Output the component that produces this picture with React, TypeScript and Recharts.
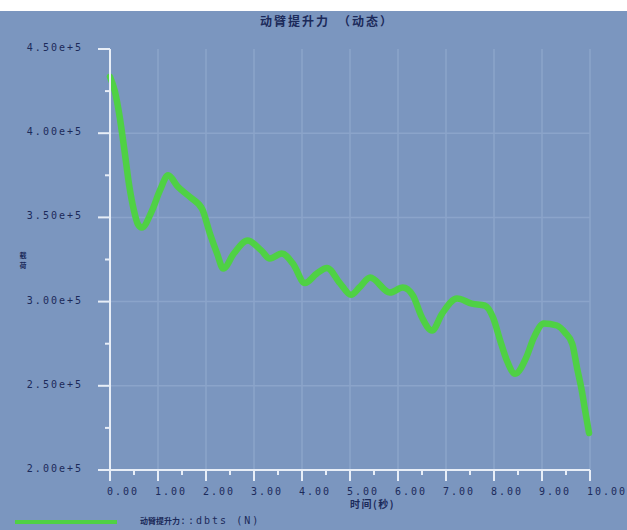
import React from "react";
import { LineChart, Line, XAxis, YAxis, ReferenceLine } from "recharts";

const timeValues = [0, 0.1, 0.2, 0.3, 0.4, 0.5, 0.58, 0.66, 0.875, 1.04, 1.21, 1.42, 1.67, 1.92, 2.08, 2.23, 2.36, 2.58, 2.87, 3.15, 3.33, 3.58, 3.81, 4.06, 4.31, 4.52, 4.79, 5.02, 5.2, 5.42, 5.83, 6.1, 6.31, 6.5, 6.71, 6.92, 7.23, 7.54, 7.81, 7.98, 8.13, 8.27, 8.44, 8.67, 8.83, 9.04, 9.31, 9.48, 9.63, 9.73, 9.83, 9.9, 9.98];
const forceValues = [433500, 425000, 410000, 390000, 369000, 354000, 346000, 344000, 354000, 366000, 375000, 368000, 362000, 355000, 340500, 328600, 319600, 328600, 336300, 330400, 325600, 328600, 322600, 311000, 316700, 320000, 311000, 304000, 308500, 314300, 305400, 308300, 303600, 290500, 282800, 292900, 301800, 298800, 297600, 290500, 276800, 264900, 257100, 266700, 278600, 287000, 285800, 281600, 275000, 260700, 247000, 235000, 222000];
const xTicks = [0, 0.5, 1, 1.5, 2, 2.5, 3, 3.5, 4, 4.5, 5, 5.5, 6, 6.5, 7, 7.5, 8, 8.5, 9, 9.5, 10];
const yTicks = [200000, 225000, 250000, 275000, 300000, 325000, 350000, 375000, 400000, 425000, 450000];
const xGrid = [1, 2, 3, 4, 5, 6, 7, 8, 9, 10];
const yGrid = [250000, 300000, 350000, 400000];

const title = "动臂提升力　（动态）";
const xLabel = "时间(秒)";
const yLabel = ["载", "荷"];
const legendName = "动臂提升力";
const legendSuffix = "::dbts (N)";

const data = timeValues.map((t, i) => ({ t, v: forceValues[i] }));

const BG = "#7b96bf";
const GRID = "#8ba4ca";
const AXIS = "#e8eef7";
const TEXT = "#1b2a5a";
const GREEN = "#4fd144";
const MONO = "'DejaVu Sans Mono', monospace";
const CJK = "'Noto Sans CJK SC', sans-serif";

const XTick = (props: any) => {
  const { x, y, payload } = props;
  const v = payload.value as number;
  const major = Math.abs(v - Math.round(v)) < 1e-6;
  return (
    <g>
      <line x1={x} x2={x} y1={y} y2={y + (major ? 11 : 5)} stroke={AXIS} strokeWidth={2} />
      {major && (
        <text x={x - 3} y={y + 25} fill={TEXT} fontSize={10} fontFamily={MONO} letterSpacing={2} textAnchor="start">
          {v.toFixed(2)}
        </text>
      )}
    </g>
  );
};

const YTick = (props: any) => {
  const { x, y, payload } = props;
  const v = payload.value as number;
  const major = v % 50000 === 0;
  return (
    <g>
      <line x1={x - (major ? 12 : 5)} x2={x} y1={y} y2={y} stroke={AXIS} strokeWidth={2} />
      {major && (
        <text x={x - 27} y={y + 2} fill={TEXT} fontSize={10} fontFamily={MONO} letterSpacing={2} textAnchor="end">
          {(v / 100000).toFixed(2) + "e+5"}
        </text>
      )}
    </g>
  );
};

export default function App() {
  return (
    <div style={{ position: "absolute", left: 0, top: 0, width: 627, height: 530, background: "#ffffff", overflow: "hidden" }}>
      <div style={{ position: "absolute", left: 0, top: 11, width: 627, height: 519, background: BG }}>
        <LineChart width={627} height={519} data={data} margin={{ top: 38, right: 37, bottom: 0, left: 0 }}>
          <XAxis
            type="number"
            dataKey="t"
            domain={[0, 10]}
            ticks={xTicks}
            interval={0}
            tick={<XTick />}
            tickLine={false}
            tickSize={0}
            tickMargin={0}
            axisLine={{ stroke: AXIS, strokeWidth: 2 }}
            height={60}
          />
          <YAxis
            type="number"
            domain={[200000, 450000]}
            ticks={yTicks}
            interval={0}
            tick={<YTick />}
            tickLine={false}
            tickSize={0}
            tickMargin={0}
            axisLine={{ stroke: AXIS, strokeWidth: 2 }}
            width={110}
          />
          {xGrid.map((g) => (
            <ReferenceLine key={"x" + g} x={g} stroke={GRID} strokeWidth={1.5} ifOverflow="visible" />
          ))}
          {yGrid.map((g) => (
            <ReferenceLine key={"y" + g} y={g} stroke={GRID} strokeWidth={1.5} />
          ))}
          <Line
            type="monotone"
            dataKey="v"
            stroke={GREEN}
            strokeWidth={6.5}
            strokeLinecap="round"
            strokeLinejoin="round"
            dot={false}
            isAnimationActive={false}
          />
        </LineChart>
      </div>
      <div style={{ position: "absolute", left: 260, top: 13, fontSize: 12, fontWeight: 700, fontFamily: CJK, color: TEXT, letterSpacing: 2, whiteSpace: "pre", lineHeight: "16px" }}>
        {title}
      </div>
      <div style={{ position: "absolute", left: 350, top: 497, fontSize: 10, fontWeight: 700, fontFamily: CJK, color: TEXT, letterSpacing: 1.5, whiteSpace: "pre", lineHeight: "14px" }}>
        {xLabel}
      </div>
      <div style={{ position: "absolute", left: 18, top: 250, fontSize: 7, fontWeight: 700, fontFamily: CJK, color: TEXT, lineHeight: "10px", width: 10, textAlign: "center" }}>
        {yLabel.map((c) => (
          <div key={c} style={{ height: 10 }}>{c}</div>
        ))}
      </div>
      <div style={{ position: "absolute", left: 15, top: 520, width: 102, height: 4, background: GREEN }} />
      <div style={{ position: "absolute", left: 140, top: 512, whiteSpace: "pre", color: TEXT, lineHeight: "14px" }}>
        <span style={{ fontSize: 8, fontWeight: 700, fontFamily: CJK }}>{legendName}</span>
        <span style={{ fontSize: 10, fontFamily: MONO, letterSpacing: 2 }}>{legendSuffix}</span>
      </div>
    </div>
  );
}
